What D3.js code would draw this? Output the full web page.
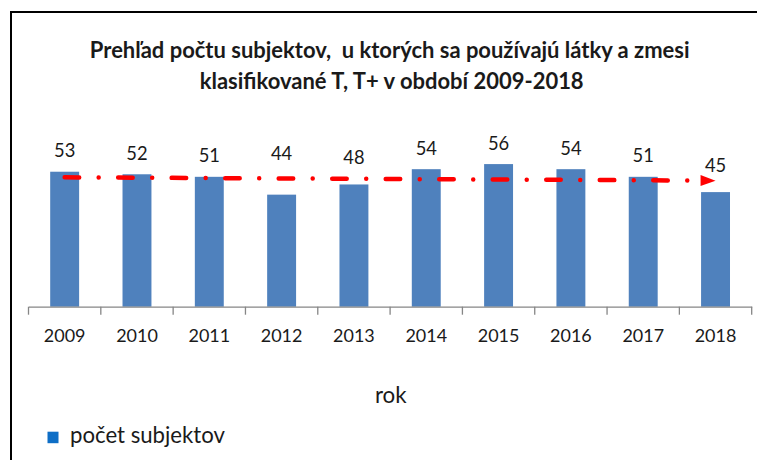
<!DOCTYPE html>
<html><head><meta charset="utf-8">
<script src="https://cdn.jsdelivr.net/npm/d3@7"></script>
<style>body{margin:0;background:#fff}svg{display:block}text{font-family:Lato,"Open Sans",sans-serif;fill:#1a1a1a}</style>
</head><body>
<script>
const years = ["2009","2010","2011","2012","2013","2014","2015","2016","2017","2018"];
const counts = [53,52,51,44,48,54,56,54,51,45];
const trendValues = [50.8,49.5];
const titleLines = ["Prehľad počtu subjektov,  u ktorých sa používajú látky a zmesi","klasifikované T, T+ v období 2009-2018"];
const axisTitle = "rok";
const seriesName = "počet subjektov";

const W=757,H=460;
const svg=d3.select("body").append("svg").attr("width",W).attr("height",H);
svg.append("rect").attr("x",11).attr("y",12).attr("width",760).attr("height",460)
  .attr("fill","#fff").attr("stroke","#000").attr("stroke-width",2);

const x=d3.scaleBand().domain(years).range([28.5,751.7]).paddingInner(0.6).paddingOuter(0.3);
const y=d3.scaleLinear().domain([0,60]).range([306.7,153.9]);

function fit(t,target){const n=t.node();const fs=parseFloat(t.attr("font-size"));const w=n.getComputedTextLength();t.attr("font-size",fs*target/w);}

// title
const tl1=svg.append("text").attr("x",389.7).attr("y",58).attr("text-anchor","middle").attr("font-weight","bold").attr("font-size",18).style("white-space","pre").text(titleLines[0]);
fit(tl1,600);
const tl2=svg.append("text").attr("x",391.7).attr("y",89).attr("text-anchor","middle").attr("font-weight","bold").attr("font-size",18).text(titleLines[1]);
tl2.attr("font-size",tl1.attr("font-size"));

// bars
svg.selectAll("rect.bar").data(counts).join("rect").attr("class","bar")
  .attr("x",(d,i)=>x(years[i])).attr("width",x.bandwidth())
  .attr("y",d=>y(d)).attr("height",d=>y(0)-y(d)).attr("fill","#4F81BD");

// trend geometry
const x0=x(years[0])+x.bandwidth()/2, x1=x(years[years.length-1])+x.bandwidth()/2;
const trendY=i=>y(trendValues[0])+(y(trendValues[1])-y(trendValues[0]))*i/(years.length-1);

// labels: placed above the higher of bar top and trend line
const n=counts.length;
const lab=svg.selectAll("text.lab").data(counts).join("text").attr("class","lab")
  .attr("x",(d,i)=>x(years[i])+x.bandwidth()/2)
  .attr("y",(d,i)=>{const top=Math.min(y(d),trendY(i));
     const gap = i===n-1 ? 9 : (y(d)>trendY(i)+10 ? 18.5 : 14.5);
     return top-gap;})
  .attr("text-anchor","middle").attr("font-size",17).text(d=>d);
{const t=d3.select(lab.nodes()[0]);fit(t,21.3);lab.attr("font-size",t.attr("font-size"));}

// axis
const xa=d3.axisBottom(x).tickSize(0).tickSizeOuter(0);
const g=svg.append("g").attr("transform",`translate(0,${y(0)})`).call(xa);
g.select(".domain").attr("stroke","#868686").attr("stroke-width",1.3);
g.selectAll(".tick text").attr("font-size",17).attr("dy",0).attr("y",35).style("font-family","Lato,sans-serif").attr("fill","#1a1a1a");
{const t=d3.select(g.selectAll(".tick text").nodes()[0]);fit(t,41.7);g.selectAll(".tick text").attr("font-size",t.attr("font-size"));}
const bounds=d3.range(years.length+1).map(i=>28.5+i*(751.7-28.5)/years.length);
g.selectAll("line.sep").data(bounds).join("line").attr("class","sep")
  .attr("x1",d=>d).attr("x2",d=>d).attr("y1",0).attr("y2",8).attr("stroke","#868686").attr("stroke-width",1.3);

// trend arrow
const ang=Math.atan2(y(trendValues[1])-y(trendValues[0]),x1-x0);
const headLen=15;
const xe=x1-headLen*Math.cos(ang), ye=y(trendValues[1])-headLen*Math.sin(ang);
svg.append("line").attr("x1",x0).attr("y1",y(trendValues[0])).attr("x2",xe).attr("y2",ye)
  .attr("stroke","#FF0000").attr("stroke-width",4.5).attr("stroke-linecap","round")
  .attr("stroke-dasharray","14.5,19.5,0.01,19.5");
svg.append("path").attr("d",`M${x1},${y(trendValues[1])}L${xe},${ye-5.5}L${xe},${ye+5.5}Z`).attr("fill","#FF0000");

// axis title
const at=svg.append("text").attr("x",390.8).attr("y",402.7).attr("text-anchor","middle").attr("font-size",18).text(axisTitle);
fit(at,31.7);

// legend
svg.append("rect").attr("x",47.5).attr("y",431.7).attr("width",11).attr("height",11.5).attr("fill","#0E6EC6");
const lt=svg.append("text").attr("x",70).attr("y",443).attr("font-size",18).text(seriesName);
fit(lt,155);
</script>
</body></html>
